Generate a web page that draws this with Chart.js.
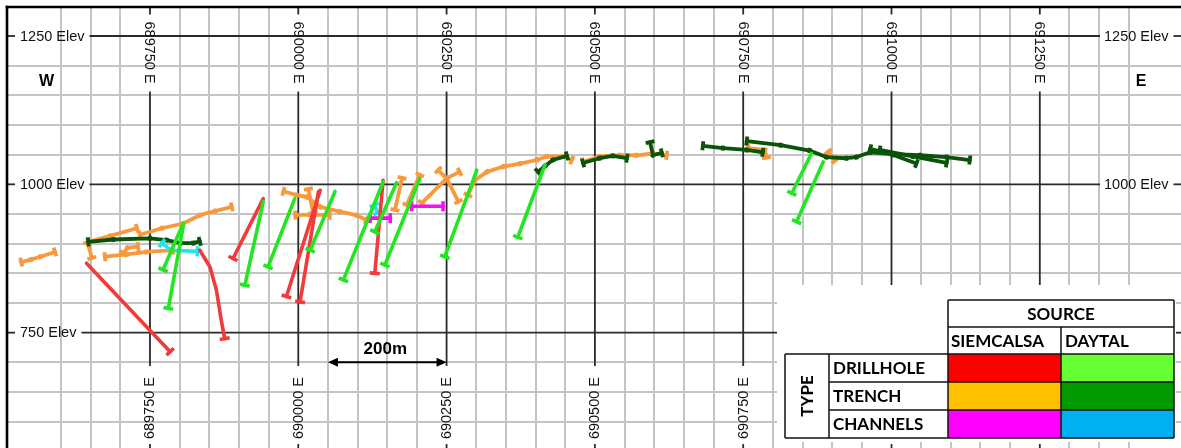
<!DOCTYPE html>
<html><head><meta charset="utf-8">
<script src="https://cdn.jsdelivr.net/npm/chart.js@4.4.1/dist/chart.umd.min.js"></script>
<style>html,body{margin:0;padding:0;background:#fff;overflow:hidden}#wrap{width:1181px;height:448px;position:relative}canvas{display:block}</style>
</head><body><div id="wrap"><canvas id="c" width="1181" height="448"></canvas></div>
<script>
// ---- axis extents and labels ----
const eastMin = 689509, eastMax = 691488;
const elevMin = 555.6, elevMax = 1298.9;
const eastingLabels = [689750, 690000, 690250, 690500, 690750, 691000, 691250];
const elevLabels = [1250, 1000, 750];
const legendSources = ['SIEMCALSA', 'DAYTAL'];
const legendTypes = ['DRILLHOLE', 'TRENCH', 'CHANNELS'];
const scaleBarFrom = 690050, scaleBarTo = 690250, scaleBarElev = 700, scaleBarLabel = '200m';

// ---- traces: [easting, elevation] ----
const siemTrenches = [
  [[689533,869],[689549,873],[689565,878],[689590,886]],
  [[689646,903],[689683,913],[689728,926]],
  [[689733,915],[689770,926],[689806,934],[689834,948],[689860,955],[689888,962]],
  [[689645,902],[689652,876]],
  [[689674,878],[689711,882],[689744,886],[689789,889]],
  [[689705,884],[689712,893],[689730,895]],
  [[689975,988],[689997,982],[690014,979],[690037,962],[690070,954],[690098,948],[690115,940]],
  [[689995,948],[690020,949],[690053,948]],
  [[690017,992],[690025,952]],
  [[690163,957],[690175,1011]],
  [[690183,965],[690205,1016]],
  [[690208,968],[690250,1010],[690272,1021]],
  [[690236,1024],[690250,1010],[690270,971]],
  [[690286,982],[690298,1007],[690318,1021],[690346,1030],[690374,1035],[690402,1041],[690419,1047],[690447,1047],[690461,1041]],
  [[690480,1038],[690508,1047],[690542,1049],[690570,1049],[690598,1052],[690621,1049]],
  [[690758,1061],[690787,1058],[690789,1045]],
  [[690893,1055],[690905,1040]]
];
const daytalTrenches = [
  [[689646,903],[689688,907],[689750,909],[689778,906],[689801,901],[689823,901],[689834,904]],
  [[690404,1021],[690416,1031],[690429,1041],[690453,1048]],
  [[690480,1036],[690508,1044],[690530,1048],[690554,1044]],
  [[690593,1071],[690598,1049],[690613,1053]],
  [[690682,1065],[690716,1061],[690756,1058],[690783,1054]],
  [[690756,1073],[690813,1066],[690862,1057],[690890,1046],[690924,1044],[690941,1046],[690964,1054],[691002,1051],[691048,1049],[691093,1046],[691132,1041]],
  [[690964,1060],[691002,1050],[691042,1035]],
  [[690980,1058],[691036,1047],[691093,1036]]
];
const siemDrillholes = [
  [[689643,867],[689784,718]],
  [[689834,889],[689851,861],[689862,822],[689871,766],[689876,740]],
  [[689941,976],[689890,875]],
  [[690037,990],[689980,811]],
  [[690034,988],[690003,802]],
  [[690143,1007],[690129,850]]
];
const daytalDrillholes = [
  [[689806,934],[689772,856]],
  [[689806,929],[689781,791]],
  [[689941,971],[689910,830]],
  [[689994,976],[689949,861]],
  [[690062,988],[690020,889]],
  [[690143,1004],[690076,839]],
  [[690166,1003],[690129,920]],
  [[690205,1010],[690146,864]],
  [[690301,1024],[690247,878]],
  [[690416,1033],[690370,911]],
  [[690865,1052],[690832,985]],
  [[690885,1038],[690840,937]]
];
const siemChannels = [
  [[690191,963],[690244,963]],
  [[690121,943],[690155,943]]
];
const daytalChannels = [
  [[689770,901],[689786,889],[689830,887]],
  [[690128,965],[690134,952]]
];

// ---- colours ----
const lineColors = {sd:'#F23A3A', dd:'#22E622', st:'#F7993C', dt:'#0B520B', sc:'#F010F0', dc:'#1EE3F0'};
const legendFill = [['#FF0000','#66FF33'],['#FFC000','#009900'],['#FF00FF','#00B0F0']];

function perpRot(ctx){
  const c = ctx.chart, d = ctx.dataset.data, i = ctx.dataIndex;
  if (!c.scales || !c.scales.x || !d || d.length < 2) return 0;
  const a = d[Math.max(0,i-1)], b = d[Math.min(d.length-1,i+1)];
  const dx = c.scales.x.getPixelForValue(b[0]) - c.scales.x.getPixelForValue(a[0]);
  const dy = c.scales.y.getPixelForValue(b[1]) - c.scales.y.getPixelForValue(a[1]);
  return Math.atan2(dy,dx)*180/Math.PI + 90;
}
function mk(list, kind, color, order, width){
  return list.map(pts => ({
    data: pts, showLine: true, borderColor: color, backgroundColor: color, borderWidth: width,
    borderCapStyle:'round', borderJoinStyle:'round', order,
    pointStyle:'line', pointBorderColor: color, pointBackgroundColor: color, pointBorderWidth: width,
    pointRotation: perpRot,
    pointRadius: ctx => {
      const n = ctx.dataset.data.length, i = ctx.dataIndex;
      if (kind === 'drill') return i === n-1 ? 5 : 0;
      if (kind === 'chan') return (i === 0 || i === n-1) ? 5 : 0;
      return (i === 0 || i === n-1) ? 4.5 : 2.5;
    }
  }));
}
const datasets = [].concat(
  mk(daytalDrillholes,'drill',lineColors.dd,1,3.6),
  mk(siemDrillholes,'drill',lineColors.sd,2,3.6),
  mk(siemChannels,'chan',lineColors.sc,3,3.6),
  mk(daytalChannels,'chan',lineColors.dc,3,3.6),
  mk(daytalTrenches,'trench',lineColors.dt,4,3.8),
  mk(siemTrenches,'trench',lineColors.st,5,3.8)
);

const FONT = '"Liberation Sans", Arial, sans-serif';
function seg(ctx,x1,y1,x2,y2){ctx.beginPath();ctx.moveTo(x1,y1);ctx.lineTo(x2,y2);ctx.stroke();}

const decor = {
  id:'decor',
  beforeDraw(chart){const c=chart.ctx;c.save();c.fillStyle='#fff';c.fillRect(0,0,chart.width,chart.height);c.restore();},
  beforeDatasetsDraw(chart){
    const {ctx, scales:{x,y}} = chart;
    ctx.save();
    ctx.strokeStyle='#2a2a2a'; ctx.lineWidth=1.8; ctx.fillStyle='#111';
    ctx.font='14.5px '+FONT; ctx.textBaseline='middle'; ctx.textAlign='left';
    elevLabels.forEach(v=>{
      const py = y.getPixelForValue(v);
      const t = v+' Elev', w = ctx.measureText(t).width;
      seg(ctx,8,py,15,py);
      ctx.fillText(t,20,py+0.5);
      seg(ctx,20+w+5,py,1100,py);
      ctx.fillText(t,1104,py+0.5);
      seg(ctx,1104+w+5,py,1181,py);
    });
    eastingLabels.forEach(v=>{
      const px = x.getPixelForValue(v);
      const t = v+' E', w = ctx.measureText(t).width;
      const top0 = 21.5, bot0 = 377;
      seg(ctx,px,7,px,top0-7);
      seg(ctx,px,top0+w+8,px,bot0-11);
      seg(ctx,px,bot0+w+5,px,448);
      ctx.save(); ctx.translate(px-0.5,top0); ctx.rotate(Math.PI/2); ctx.fillText(t,0,0); ctx.restore();
      ctx.save(); ctx.translate(px+0.5,bot0+w); ctx.rotate(-Math.PI/2); ctx.fillText(t,0,0); ctx.restore();
    });
    ctx.restore();
  },
  afterDraw(chart){
    const {ctx, scales:{x,y}} = chart;
    ctx.save();
    // W / E
    ctx.fillStyle='#000'; ctx.textAlign='center'; ctx.textBaseline='middle';
    ctx.font='bold 16px '+FONT; ctx.fillText('W',46.5,81.5);
    ctx.font='bold 16px '+FONT; ctx.fillText('E',1141,81.5);
    // scale bar
    const bx1 = x.getPixelForValue(scaleBarFrom), bx2 = x.getPixelForValue(scaleBarTo), by = y.getPixelForValue(scaleBarElev);
    ctx.strokeStyle='#000'; ctx.lineWidth=2;
    seg(ctx,bx1+6,by,bx2-6,by);
    ctx.beginPath(); ctx.moveTo(bx1,by); ctx.lineTo(bx1+10,by-4.5); ctx.lineTo(bx1+10,by+4.5); ctx.closePath(); ctx.fill();
    ctx.beginPath(); ctx.moveTo(bx2,by); ctx.lineTo(bx2-10,by-4.5); ctx.lineTo(bx2-10,by+4.5); ctx.closePath(); ctx.fill();
    ctx.font='bold 17px '+FONT; ctx.textBaseline='alphabetic';
    ctx.fillText(scaleBarLabel,(bx1+bx2)/2-2,by-8);
    // legend box
    ctx.fillStyle='#fff'; ctx.fillRect(777,285,399,157);
    const L=785, c1=829, c2=948, c3=1061, R=1174;
    const r0=300, r1=327, r2=354, r3=382, r4=410, r5=438;
    for (let i=0;i<3;i++){ for (let j=0;j<2;j++){
      ctx.fillStyle=legendFill[i][j];
      const ys=[r2,r3,r4,r5];
      ctx.fillRect(j?c3:c2, ys[i], j?R-c3:c3-c2, ys[i+1]-ys[i]);
    }}
    ctx.strokeStyle='#111'; ctx.lineWidth=1.5;
    seg(ctx,c2,r0,R,r0); seg(ctx,c2,r1,R,r1); seg(ctx,L,r2,R,r2);
    seg(ctx,c1,r3,R,r3); seg(ctx,c1,r4,R,r4); seg(ctx,L,r5,R,r5);
    seg(ctx,L,r2,L,r5); seg(ctx,c1,r2,c1,r5); seg(ctx,c2,r0,c2,r5);
    seg(ctx,c3,r1,c3,r5); seg(ctx,R,r0,R,r5);
    ctx.fillStyle='#000'; ctx.font='bold 17px Lato, sans-serif'; ctx.textBaseline='middle';
    ctx.textAlign='center'; ctx.fillText('SOURCE',(c2+R)/2,(r0+r1)/2+1);
    ctx.textAlign='left';
    ctx.fillText(legendSources[0],c2+3,(r1+r2)/2+1);
    ctx.fillText(legendSources[1],c3+4,(r1+r2)/2+1);
    const rows=[r2,r3,r4,r5];
    legendTypes.forEach((t,i)=>ctx.fillText(t,c1+4,(rows[i]+rows[i+1])/2+1));
    ctx.save(); ctx.translate((L+c1)/2+1,(r2+r5)/2); ctx.rotate(-Math.PI/2); ctx.textAlign='center'; ctx.fillText('TYPE',0,0); ctx.restore();
    // frame
    ctx.strokeStyle='#000'; ctx.lineWidth=2.6;
    seg(ctx,5.7,7,1181,7); seg(ctx,7,5.7,7,448);
    ctx.restore();
  }
};

const gridColor = c => (c.tick && Math.abs(c.tick.value % 250) < 1e-6) ? 'rgba(0,0,0,0)' : '#c4c4c4';
const keep50 = s => { s.ticks = s.ticks.filter(t => Math.abs(t.value % 50) < 1e-6); };

new Chart(document.getElementById('c'), {
  type:'scatter',
  data:{datasets},
  options:{
    responsive:false, animation:false, events:[],
    layout:{autoPadding:false, padding:{left:7, top:7, right:0, bottom:0}},
    plugins:{legend:{display:false}, tooltip:{enabled:false}},
    scales:{
      x:{type:'linear', min:eastMin, max:eastMax, ticks:{display:false, stepSize:50},
         grid:{color:gridColor, lineWidth:2, drawTicks:false}, border:{display:false},
         afterBuildTicks:keep50, afterFit:s=>{s.height=0;}},
      y:{type:'linear', min:elevMin, max:elevMax, ticks:{display:false, stepSize:50},
         grid:{color:gridColor, lineWidth:2, drawTicks:false}, border:{display:false},
         afterBuildTicks:keep50, afterFit:s=>{s.width=0;}}
    }
  },
  plugins:[decor]
});
</script></body></html>
